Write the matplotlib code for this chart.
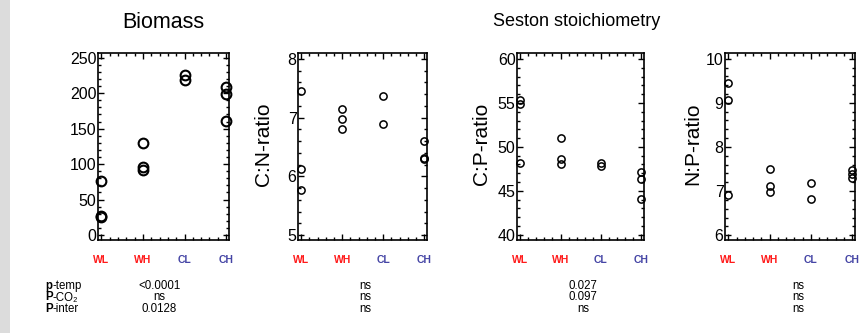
import matplotlib.pyplot as plt
from matplotlib.ticker import AutoMinorLocator, MultipleLocator
from matplotlib.patches import Rectangle

plt.rcParams['font.family'] = ['Liberation Sans', 'DejaVu Sans']
plt.rcParams['mathtext.fontset'] = 'custom'
plt.rcParams['mathtext.rm'] = 'Liberation Sans'
plt.rcParams['mathtext.bf'] = 'Liberation Sans:bold'

# treatments
groups = ['WL', 'WH', 'CL', 'CH']
group_colors = ['#ff1a1a', '#ff1a1a', '#4545a5', '#4545a5']

# values per treatment
biomass = [[76, 27, 25], [129.5, 96, 91], [226, 218], [208, 199, 161]]
cn_ratio = [[7.46, 6.13, 5.76], [7.14, 6.98, 6.81], [7.37, 6.89], [6.60, 6.31, 6.29]]
cp_ratio = [[55.3, 54.9, 48.2], [51.0, 48.6, 48.0], [48.15, 47.8], [47.1, 46.3, 44.1]]
np_ratio = [[9.46, 9.06, 6.90], [7.50, 7.12, 6.98], [7.18, 6.82], [7.48, 7.39, 7.30]]

panel_data = [biomass, cn_ratio, cp_ratio, np_ratio]
ylabels = ['', 'C:N-ratio', 'C:P-ratio', 'N:P-ratio']
ylims = [(-7, 256.6), (4.915, 8.1), (39.4, 60.7), (5.89, 10.13)]
ysteps = [50, 1, 5, 1]

# p-values under each panel
p_bold = ['p', 'P', 'P']
p_rest = ['-temp', '-CO₂', '-inter']
p_values = [['<0.0001', 'ns', '0.0128'],
            ['ns', 'ns', 'ns'],
            ['0.027', '0.097', 'ns'],
            ['ns', 'ns', 'ns']]

W, H = 863, 333
fig = plt.figure(figsize=(W / 100, H / 100), dpi=100)
fig.patches.append(Rectangle((0, 0), 10 / W, 1, transform=fig.transFigure,
                             facecolor='#dcdcdc', edgecolor='none'))

# axes boxes in pixels: left, right
boxes = [(98, 229), (298, 427), (517, 644), (725, 855)]
top, bottom = 53, 240
ylabel_x = [None, 264, 481, 693]
pval_x = [159, 365, 583, 798]
row_y = [286, 297.5, 309]

for i, (x0, x1) in enumerate(boxes):
    ax = fig.add_axes([x0 / W, (H - bottom) / H, (x1 - x0) / W, (bottom - top) / H])
    ms = 7 if i == 0 else 5.2
    mew = 1.5 if i == 0 else 1.1
    for j, vals in enumerate(panel_data[i]):
        ax.plot([j] * len(vals), vals, 'o', mfc='none', mec='black', ms=ms, mew=mew, clip_on=False)
    ax.set_xlim(-0.08, 3.07)
    ax.set_ylim(*ylims[i])
    ax.set_xticks(range(4))
    ax.set_xticklabels(groups, fontsize=7.5, fontweight='bold')
    for lab, c in zip(ax.get_xticklabels(), group_colors):
        lab.set_color(c)
    ax.yaxis.set_major_locator(MultipleLocator(ysteps[i]))
    ax.xaxis.set_minor_locator(AutoMinorLocator(5))
    ax.yaxis.set_minor_locator(AutoMinorLocator(5))
    ax.tick_params(which='both', direction='in', top=True, right=True, width=1)
    ax.tick_params(which='major', length=4)
    ax.tick_params(which='minor', length=2)
    ax.tick_params(axis='x', pad=11)
    ax.tick_params(axis='y', labelsize=11.5, pad=1)
    for s in ax.spines.values():
        s.set_linewidth(1.2)
    if ylabel_x[i]:
        fig.text(ylabel_x[i] / W, 1 - 144 / H, ylabels[i], rotation=90,
                 ha='center', va='center', fontsize=15)
    for k, v in enumerate(p_values[i]):
        fig.text(pval_x[i] / W, 1 - row_y[k] / H, v, ha='center', va='center', fontsize=8.3)

for k in range(3):
    t = fig.text(45 / W, 1 - row_y[k] / H, p_bold[k], ha='left', va='center',
                 fontsize=8.3, fontweight='bold')
    fig.canvas.draw()
    bb = t.get_window_extent()
    fig.text(bb.x1 / W, 1 - row_y[k] / H, p_rest[k], ha='left', va='center', fontsize=8.3)

fig.text(163 / W, 1 - 23 / H, 'Biomass', ha='center', va='center', fontsize=15.5)
fig.text(577 / W, 1 - 22 / H, 'Seston stoichiometry', ha='center', va='center', fontsize=13)

fig.savefig('out.png', dpi=100)
